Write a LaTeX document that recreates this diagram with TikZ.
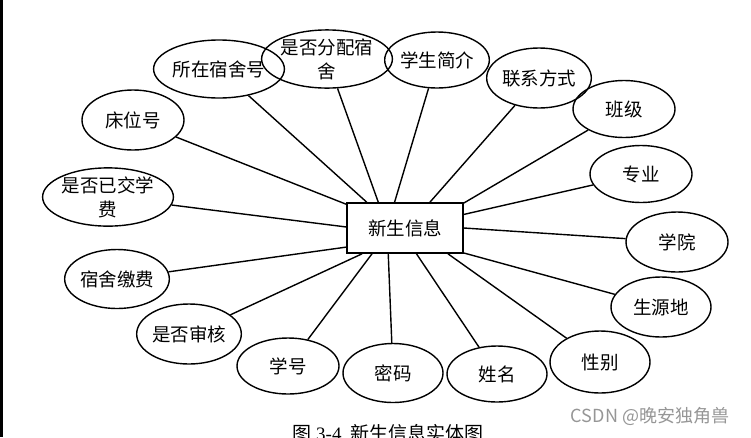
\documentclass[tikz,border=0pt]{standalone}
\usepackage{fontspec}
\usetikzlibrary{shapes.geometric}
\newfontfamily\cjk{Noto Sans CJK SC}
\newfontfamily\capserif{Liberation Serif}
\definecolor{markgray}{RGB}{150,150,150}

\begin{document}
\begin{tikzpicture}[x=1pt, y=-1pt,
    attr/.style={ellipse, draw, line width=1.4pt, inner sep=0pt,
        minimum width=102pt, minimum height=58pt, align=center,
        font=\cjk\fontsize{18.5}{24}\selectfont},
    entity/.style={rectangle, draw, line width=1.6pt, inner sep=0pt,
        minimum width=116pt, minimum height=50pt,
        font=\cjk\fontsize{18.5}{22}\selectfont},
    link/.style={line width=1.4pt}]
    \useasboundingbox (0,0) rectangle (751,437);
    % left edge bar
    \fill[black] (0,0) rectangle (2.5,437);

    % entity
    \node[entity] (xs) at (405,228) {新生信息};

    % attributes, clockwise from the left
    \node[attr, minimum height=54pt] (jf) at (108,197) {是否已交学\\费};
    \node[attr, minimum height=60pt] (cw) at (133,120) {床位号};
    \node[attr, minimum width=104pt] (ss) at (219,69) {所在宿舍号};
    \node[attr] (fp) at (327,59) {是否分配宿\\舍};
    \node[attr, minimum width=104pt, minimum height=56pt] (jj) at (437,60) {学生简介};
    \node[attr, minimum width=98pt, minimum height=60pt] (lx) at (539,78) {联系方式};
    \node[attr, minimum height=57pt] (bj) at (624,109) {班级};
    \node[attr, minimum height=57pt] (zy) at (641,174) {专业};
    \node[attr, minimum height=60pt] (xy) at (677,242) {学院};
    \node[attr, minimum width=100pt, minimum height=60pt] (sy) at (661,307) {生源地};
    \node[attr, minimum width=100pt, minimum height=62pt] (xb) at (600,362) {性别};
    \node[attr, minimum width=100pt, minimum height=56pt] (xm) at (497,374) {姓名};
    \node[attr, minimum width=100pt, minimum height=59pt] (mm) at (393,373) {密码};
    \node[attr, minimum width=102pt, minimum height=56pt] (xh) at (288,366) {学号};
    \node[attr, minimum height=60pt] (sh) at (189,334) {是否审核};
    \node[attr, minimum height=59pt] (jiao) at (117,279) {宿舍缴费};

    % links from the entity
    \foreach \ang/\e in {179/jf, 158/cw, 146/ss, 136/fp, 112/jj, 46/lx,
        23/bj, 13/zy, 0/xy, -23/sy, -31/xb, -66/xm, -123/mm, -142/xh,
        -149/sh, -162/jiao}
        \draw[link] (xs.\ang) -- (\e);

    % caption and mark
    \node[font=\cjk\fontsize{19}{20}\selectfont, anchor=north] (cap) at (388,421)
        {图 {\capserif 3-4}\ \ 新生信息实体图};
    \node[font=\cjk\fontsize{18}{20}\selectfont, text=markgray] (mark) at (650,416)
        {CSDN @晚安独角兽};
\end{tikzpicture}
\end{document}
